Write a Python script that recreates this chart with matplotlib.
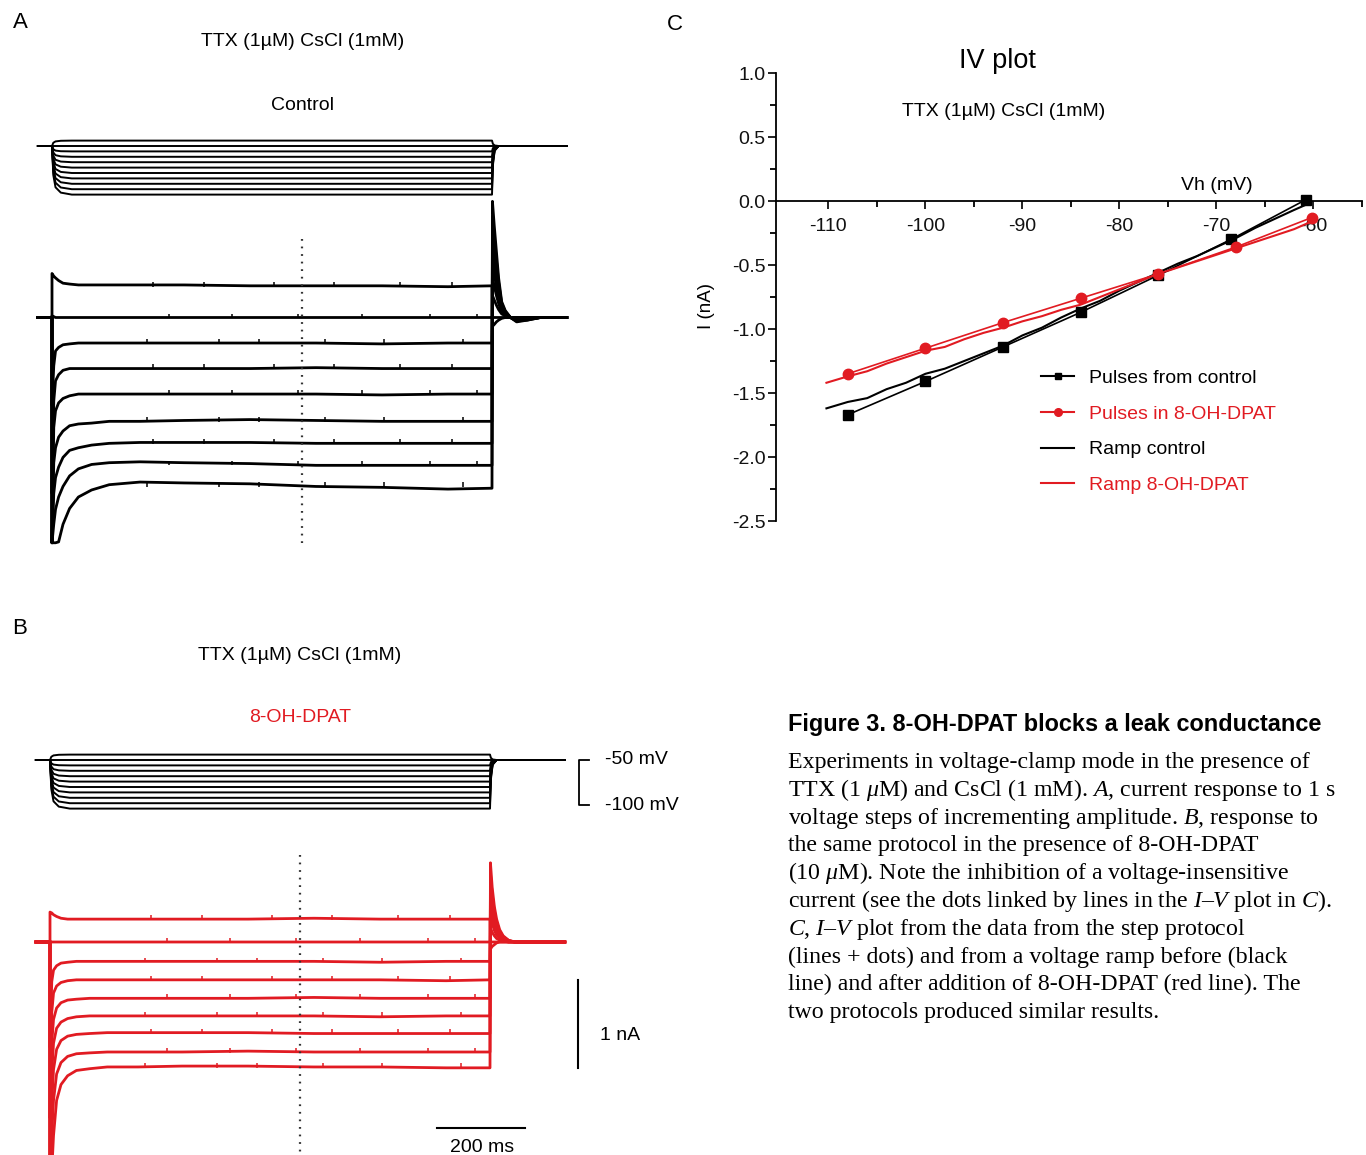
import matplotlib
matplotlib.use("Agg")
import matplotlib.pyplot as plt
from matplotlib.lines import Line2D

plt.rcParams['font.family'] = ['Liberation Sans', 'DejaVu Sans']
plt.rcParams['axes.unicode_minus'] = False
plt.rcParams['mathtext.fontset'] = 'custom'
plt.rcParams['mathtext.rm'] = 'Liberation Serif'
plt.rcParams['mathtext.it'] = 'Liberation Serif:italic'

W, H = 1366, 1155
RED = '#e11b22'

# ==================== DATA ====================

# step protocol, time in ms, voltage in mV
T_START, T_END = -32, 1170
V_HOLD = -50
V_LEVELS = [-44, -50, -56, -62, -68, -74, -80, -86, -92, -98, -104]
V_ON_T = [0, 3, 8, 20, 45]
V_ON = [
    [-50, -46.4, -44.9, -44.2, -44],
    [-50, -50, -50, -50, -50],
    [-50, -53.6, -55.1, -55.8, -56],
    [-50, -57.2, -60.2, -61.5, -62],
    [-50, -60.8, -65.3, -67.3, -68],
    [-50, -64.4, -70.4, -73.0, -74],
    [-50, -68.0, -75.5, -78.8, -80],
    [-50, -71.6, -80.6, -84.6, -86],
    [-50, -75.2, -85.7, -90.3, -92],
    [-50, -78.8, -90.8, -96.1, -98],
    [-50, -82.4, -95.9, -101.8, -104],
]
V_OFF_T = [1002, 1006, 1015]
V_OFF = [
    [-47.6, -49.4, -50], [-50, -50, -50], [-52.4, -50.6, -50], [-54.8, -51.2, -50],
    [-57.2, -51.8, -50], [-59.6, -52.4, -50], [-62.0, -53.0, -50], [-64.4, -53.6, -50],
    [-66.8, -54.2, -50], [-69.2, -54.8, -50], [-71.6, -55.4, -50],
]

# current responses, nA relative to holding current
I_ON_T = [0, 4, 8, 15, 25, 40, 60, 90, 130, 200]
I_SS_T = [300, 450, 600, 750, 900, 1000]
I_OFF_T = [1001, 1005, 1010, 1015, 1022, 1030, 1042, 1056, 1080, 1110]

CTRL_ON = [
    [0.50, 0.47, 0.45, 0.42, 0.39, 0.38, 0.37, 0.37, 0.37, 0.37],
    [0.02, 0.01, 0.00, 0.00, 0.00, 0.00, 0.00, 0.00, 0.00, 0.00],
    [-1.00, -0.55, -0.38, -0.34, -0.31, -0.30, -0.29, -0.29, -0.29, -0.29],
    [-2.00, -0.95, -0.72, -0.65, -0.60, -0.58, -0.58, -0.58, -0.58, -0.58],
    [-2.56, -1.25, -1.06, -0.97, -0.92, -0.89, -0.87, -0.87, -0.87, -0.87],
    [-2.56, -1.65, -1.48, -1.36, -1.29, -1.23, -1.21, -1.20, -1.18, -1.18],
    [-2.56, -2.00, -1.82, -1.70, -1.59, -1.51, -1.48, -1.45, -1.43, -1.42],
    [-2.56, -2.35, -2.18, -2.04, -1.92, -1.80, -1.72, -1.67, -1.65, -1.64],
    [-2.56, -2.56, -2.56, -2.55, -2.35, -2.17, -2.04, -1.96, -1.90, -1.87],
]
CTRL_SS = [
    [0.37, 0.36, 0.36, 0.36, 0.35, 0.36],
    [0.00, 0.00, 0.00, 0.00, 0.00, 0.00],
    [-0.29, -0.29, -0.29, -0.30, -0.29, -0.29],
    [-0.58, -0.58, -0.57, -0.58, -0.58, -0.58],
    [-0.87, -0.87, -0.87, -0.88, -0.87, -0.87],
    [-1.17, -1.16, -1.17, -1.18, -1.18, -1.18],
    [-1.42, -1.42, -1.43, -1.43, -1.43, -1.43],
    [-1.65, -1.66, -1.68, -1.68, -1.68, -1.68],
    [-1.88, -1.89, -1.92, -1.93, -1.95, -1.94],
]
CTRL_TAIL = [
    [-0.10, -0.08, -0.05, -0.03, -0.01, 0.00, 0.00, 0.00, 0.00, 0.00],
    [0.00, 0.00, 0.00, 0.00, 0.00, 0.00, 0.00, 0.00, 0.00, 0.00],
    [0.25, 0.20, 0.14, 0.09, 0.04, 0.02, 0.00, -0.01, 0.00, 0.00],
    [0.45, 0.36, 0.25, 0.16, 0.06, 0.03, 0.00, -0.02, -0.01, 0.00],
    [0.62, 0.50, 0.35, 0.22, 0.09, 0.04, 0.00, -0.03, -0.02, 0.00],
    [0.80, 0.64, 0.45, 0.28, 0.11, 0.05, 0.00, -0.03, -0.02, 0.00],
    [0.98, 0.78, 0.55, 0.34, 0.14, 0.06, 0.00, -0.04, -0.02, 0.00],
    [1.15, 0.92, 0.65, 0.40, 0.16, 0.07, 0.00, -0.04, -0.03, 0.00],
    [1.32, 1.05, 0.75, 0.45, 0.18, 0.08, 0.00, -0.05, -0.03, 0.00],
]

DPAT_ON = [
    [0.34, 0.33, 0.31, 0.29, 0.27, 0.26, 0.26, 0.26, 0.26, 0.26],
    [0.01, 0.00, 0.00, 0.00, 0.00, 0.00, 0.00, 0.00, 0.00, 0.00],
    [-1.20, -0.45, -0.32, -0.27, -0.24, -0.23, -0.22, -0.22, -0.22, -0.22],
    [-2.00, -0.80, -0.58, -0.50, -0.46, -0.44, -0.43, -0.43, -0.43, -0.43],
    [-2.80, -1.15, -0.88, -0.75, -0.69, -0.66, -0.65, -0.64, -0.64, -0.64],
    [-2.80, -1.50, -1.15, -0.98, -0.91, -0.87, -0.85, -0.84, -0.84, -0.84],
    [-2.80, -1.85, -1.45, -1.22, -1.12, -1.07, -1.05, -1.04, -1.03, -1.03],
    [-2.80, -2.20, -1.80, -1.50, -1.37, -1.30, -1.27, -1.26, -1.25, -1.25],
    [-2.80, -2.60, -2.20, -1.80, -1.62, -1.52, -1.46, -1.44, -1.42, -1.42],
]
DPAT_SS = [
    [0.26, 0.26, 0.27, 0.26, 0.26, 0.26],
    [0.00, 0.00, 0.00, 0.00, 0.00, 0.00],
    [-0.22, -0.22, -0.22, -0.23, -0.22, -0.22],
    [-0.43, -0.43, -0.43, -0.43, -0.44, -0.43],
    [-0.64, -0.64, -0.63, -0.64, -0.64, -0.64],
    [-0.84, -0.84, -0.84, -0.85, -0.84, -0.84],
    [-1.03, -1.03, -1.04, -1.04, -1.04, -1.04],
    [-1.25, -1.24, -1.25, -1.25, -1.25, -1.25],
    [-1.41, -1.41, -1.42, -1.42, -1.43, -1.43],
]
DPAT_TAIL = [
    [-0.08, -0.05, -0.03, -0.01, 0.00, 0.00, 0.00, 0.00, 0.00, 0.00],
    [0.00, 0.00, 0.00, 0.00, 0.00, 0.00, 0.00, 0.00, 0.00, 0.00],
    [0.16, 0.11, 0.07, 0.04, 0.02, 0.01, 0.00, 0.00, 0.00, 0.00],
    [0.30, 0.21, 0.13, 0.08, 0.04, 0.02, 0.00, 0.00, 0.00, 0.00],
    [0.42, 0.29, 0.19, 0.12, 0.06, 0.03, 0.01, 0.00, 0.00, 0.00],
    [0.54, 0.38, 0.24, 0.15, 0.08, 0.04, 0.01, 0.00, 0.00, 0.00],
    [0.66, 0.46, 0.30, 0.19, 0.10, 0.05, 0.01, 0.00, 0.00, 0.00],
    [0.78, 0.54, 0.35, 0.22, 0.12, 0.06, 0.02, 0.00, 0.00, 0.00],
    [0.90, 0.62, 0.40, 0.26, 0.14, 0.07, 0.02, 0.00, 0.00, 0.00],
]

# little artefacts riding on the traces (ms)
SPIKES = [
    [230, 345, 505, 640, 790, 910],
    [265, 410, 560, 705, 860, 965],
    [215, 380, 470, 620, 755, 935],
]

DOT_T = 568  # dotted marker in A and B

# I-V plot
VH_CTRL = [-108, -100, -92, -84, -76, -68.5, -60.8]
I_CTRL = [-1.67, -1.41, -1.14, -0.87, -0.58, -0.30, 0.01]
VH_DPAT = [-108, -100, -92, -84, -76, -68, -60.2]
I_DPAT = [-1.35, -1.15, -0.95, -0.76, -0.57, -0.36, -0.13]

RAMP_V = [-110.2, -108, -106, -104, -102, -100, -98, -96, -94, -92, -90, -88, -86,
          -84, -82, -80, -78, -76, -74, -72, -70, -68, -66, -64, -62, -60.5]
RAMP_CTRL = [-1.62, -1.57, -1.54, -1.47, -1.42, -1.35, -1.31, -1.25, -1.19, -1.13,
             -1.05, -0.99, -0.91, -0.84, -0.78, -0.70, -0.63, -0.56, -0.49, -0.43,
             -0.36, -0.29, -0.21, -0.14, -0.07, -0.02]
RAMP_DPAT = [-1.42, -1.37, -1.33, -1.27, -1.22, -1.17, -1.14, -1.08, -1.03, -0.99,
             -0.94, -0.90, -0.85, -0.81, -0.75, -0.69, -0.63, -0.57, -0.52, -0.47,
             -0.42, -0.37, -0.32, -0.27, -0.22, -0.17]

CAPTION_TITLE = 'Figure 3. 8-OH-DPAT blocks a leak conductance'
CAPTION = [
    'Experiments in voltage-clamp mode in the presence of',
    r'TTX (1 $\mu$M) and CsCl (1 mM). $\mathit{A}$, current response to 1 s',
    r'voltage steps of incrementing amplitude. $\mathit{B}$, response to',
    'the same protocol in the presence of 8-OH-DPAT',
    r'(10 $\mu$M). Note the inhibition of a voltage-insensitive',
    r'current (see the dots linked by lines in the $\mathit{I}$–$\mathit{V}$ plot in $\mathit{C}$).',
    r'$\mathit{C}$, $\mathit{I}$–$\mathit{V}$ plot from the data from the step protocol',
    '(lines + dots) and from a voltage ramp before (black',
    'line) and after addition of 8-OH-DPAT (red line). The',
    'two protocols produced similar results.',
]

# ==================== LAYOUT HELPERS ====================

PX_MS = 0.44   # pixels per ms
PX_NA = 88     # pixels per nA
PX_MV = 0.9    # pixels per mV

fig = plt.figure(figsize=(W / 100, H / 100), dpi=100)


def box(x0, y0, x1, y1):
    return [x0 / W, 1 - y1 / H, (x1 - x0) / W, (y1 - y0) / H]


def ftext(x, y, s, **kw):
    return fig.text(x / W, 1 - y / H, s, **kw)


def trace_axes(x0, y0, x1, y1, x_step, y_base, v_base, px_unit):
    ax = fig.add_axes(box(x0, y0, x1, y1))
    ax.set_xlim((x0 - x_step) / PX_MS, (x1 - x_step) / PX_MS)
    ax.set_ylim(v_base + (y_base - y1) / px_unit, v_base + (y_base - y0) / px_unit)
    ax.axis('off')
    return ax


def draw_voltage(ax):
    for k, level in enumerate(V_LEVELS):
        t = [T_START] + V_ON_T + [1000] + V_OFF_T + [T_END]
        v = [V_HOLD] + V_ON[k] + [level] + V_OFF[k] + [V_HOLD]
        ax.plot(t, v, color='black', lw=1.4, solid_joinstyle='round')


def draw_currents(ax, on, ss, tail, color):
    for k in range(len(on)):
        t = [T_START, 0] + I_ON_T + I_SS_T + I_OFF_T + [T_END]
        i = [0, 0] + on[k] + ss[k] + tail[k] + [0]
        ax.plot(t, i, color=color, lw=2.0, solid_joinstyle='round')
        base = sum(ss[k]) / len(ss[k])
        ax.vlines(SPIKES[k % 3], base - 0.01, base + 0.045, color=color, lw=1.1)


# ==================== PANEL A ====================

ax_av = trace_axes(30, 120, 600, 215, 52, 146, V_HOLD, PX_MV)
draw_voltage(ax_av)

ax_ai = trace_axes(30, 190, 600, 560, 52, 317.5, 0, PX_NA)
draw_currents(ax_ai, CTRL_ON, CTRL_SS, CTRL_TAIL, 'black')
ax_ai.plot([DOT_T, DOT_T], [0.89, -2.61], color='#333333', lw=1.6, ls=(0, (0.8, 2.6)))

ftext(20, 22, 'A', fontsize=16, ha='center', va='center')
ftext(303, 42, 'TTX (1µM) CsCl (1mM)', fontsize=14, ha='center', va='center')
ftext(303, 105, 'Control', fontsize=14, ha='center', va='center')

# ==================== PANEL B ====================

ax_bv = trace_axes(30, 735, 640, 830, 50, 760, V_HOLD, PX_MV)
draw_voltage(ax_bv)
# voltage calibration bracket
ax_bv.plot([1225, 1202, 1202, 1225], [-50, -50, -100, -100], color='black', lw=1.3)

ax_bi = trace_axes(30, 840, 640, 1155, 50, 942, 0, PX_NA)
draw_currents(ax_bi, DPAT_ON, DPAT_SS, DPAT_TAIL, RED)
ax_bi.plot([DOT_T, DOT_T], [0.99, -2.6], color='#333333', lw=1.6, ls=(0, (0.8, 2.6)))
# scale bars: 1 nA, 200 ms
ax_bi.plot([1200, 1200], [-0.43, -1.43], color='black', lw=1.5)
ax_bi.plot([880, 1080], [-2.11, -2.11], color='black', lw=1.5)

ftext(20, 628, 'B', fontsize=16, ha='center', va='center')
ftext(300, 656, 'TTX (1µM) CsCl (1mM)', fontsize=14, ha='center', va='center')
ftext(300, 718, '8-OH-DPAT', fontsize=14, ha='center', va='center', color=RED)
ftext(605, 759, '-50 mV', fontsize=14, ha='left', va='center')
ftext(605, 806, '-100 mV', fontsize=14, ha='left', va='center')
ftext(600, 1035, '1 nA', fontsize=14, ha='left', va='center')
ftext(482, 1148, '200 ms', fontsize=14, ha='center', va='center')

# ==================== PANEL C ====================

ax_c = fig.add_axes(box(776, 73, 1362, 521))
ax_c.set_xlim(-115.4, -55)
ax_c.set_ylim(-2.5, 1.0)
for side in ('top', 'right'):
    ax_c.spines[side].set_visible(False)
ax_c.spines['bottom'].set_position(('data', 0))
for side in ('left', 'bottom'):
    ax_c.spines[side].set_linewidth(1.3)
ax_c.set_xticks([-110, -100, -90, -80, -70, -60])
ax_c.set_xticks([-105, -95, -85, -75, -65, -55], minor=True)
ax_c.set_yticks([-2.5, -2.0, -1.5, -1.0, -0.5, 0.0, 0.5, 1.0])
ax_c.set_yticks([-2.25, -1.75, -1.25, -0.75, -0.25, 0.25, 0.75], minor=True)
ax_c.set_xticklabels(['-110', '-100', '-90', '-80', '-70', '-60'])
ax_c.set_yticklabels(['-2.5', '-2.0', '-1.5', '-1.0', '-0.5', '0.0', '0.5', '1.0'])
ax_c.tick_params(which='major', direction='out', length=6, width=1.3,
                 labelsize=14, colors='#111111')
ax_c.tick_params(axis='x', which='major', pad=6)
ax_c.tick_params(axis='y', which='major', pad=1.5)
ax_c.tick_params(which='minor', direction='out', length=4, width=1.3)

ax_c.plot(RAMP_V, RAMP_CTRL, color='black', lw=1.5)
ax_c.plot(RAMP_V, RAMP_DPAT, color=RED, lw=1.5)
ax_c.plot(VH_CTRL, I_CTRL, color='black', lw=1.2, marker='s', ms=7, zorder=3)
ax_c.plot(VH_DPAT, I_DPAT, color=RED, lw=1.2, marker='o', ms=7.5, zorder=3)

handles = [
    Line2D([], [], color='black', lw=1.5, marker='s', ms=5),
    Line2D([], [], color=RED, lw=1.5, marker='o', ms=5.5),
    Line2D([], [], color='black', lw=1.5),
    Line2D([], [], color=RED, lw=1.5),
]
labels = ['Pulses from control', 'Pulses in 8-OH-DPAT', 'Ramp control', 'Ramp 8-OH-DPAT']
ax_c.legend(handles, labels, loc='upper left',
            bbox_to_anchor=(1041 / W, 1 - 369 / H), bbox_transform=fig.transFigure,
            frameon=False, fontsize=14, handlelength=1.7, handletextpad=0.75,
            labelspacing=0.94, borderpad=0, borderaxespad=0, labelcolor='linecolor')

ftext(675, 24, 'C', fontsize=16, ha='center', va='center')
ftext(997, 61, 'IV plot', fontsize=19.5, ha='center', va='center')
ftext(1004, 112, 'TTX (1µM) CsCl (1mM)', fontsize=14, ha='center', va='center')
ftext(1217, 185, 'Vh (mV)', fontsize=14, ha='center', va='center')
ftext(706, 306, 'I (nA)', fontsize=13.5, ha='center', va='center', rotation=90)

# ==================== CAPTION ====================

ftext(788, 731, CAPTION_TITLE, fontsize=16.9, fontweight='bold', ha='left', va='baseline')
for n, line in enumerate(CAPTION):
    ftext(788, 768 + 27.8 * n, line, fontsize=17.2, family='Liberation Serif',
          ha='left', va='baseline')

fig.savefig('out.png', dpi=100)
